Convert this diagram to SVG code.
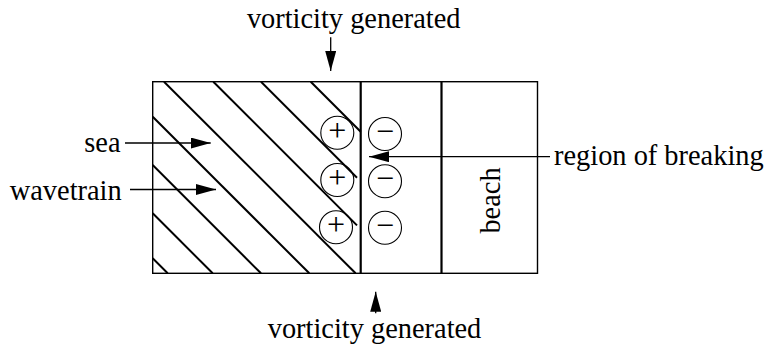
<svg xmlns="http://www.w3.org/2000/svg" width="769" height="347" viewBox="0 0 769 347">
  <defs>
    <marker id="head" viewBox="0 0 20 11" refX="20" refY="5.5" markerWidth="20" markerHeight="11" markerUnits="userSpaceOnUse" orient="auto">
      <path d="M0,0 L20,5.5 L0,11 Z" fill="#000"/>
    </marker>
    <style>
      .lbl { font-family: "Liberation Serif", "Times New Roman", serif; font-size: 28.4px; fill: #000; }
      .sign { font-family: "Liberation Serif", "Times New Roman", serif; font-size: 32px; fill: #000; text-anchor: middle; }
      .frame { fill: none; stroke: #000; stroke-width: 1.4; }
      .wall { stroke: #000; stroke-width: 2.2; }
      .crest { stroke: #000; stroke-width: 2; fill: none; }
      .ring { fill: none; stroke: #000; stroke-width: 1.1; }
      .arrow { stroke: #000; stroke-width: 1.3; fill: none; marker-end: url(#head); }
    </style>
  </defs>

  <!-- sea / surf zone / beach strip -->
  <g id="sea">
    <rect class="frame" x="152.7" y="81.7" width="384.8" height="191.6"/>
    <!-- wave crests, 45 degrees -->
    <g id="wavetrain">
      <line class="crest" x1="310.7" y1="81.7" x2="360.7" y2="131.7"/>
      <line class="crest" x1="261" y1="81.7" x2="357" y2="177.7"/>
      <line class="crest" x1="213.3" y1="81.7" x2="357" y2="225.4"/>
      <line class="crest" x1="164" y1="81.7" x2="355.6" y2="273.3"/>
      <line class="crest" x1="152.7" y1="116.7" x2="309.3" y2="273.3"/>
      <line class="crest" x1="152.7" y1="165" x2="261" y2="273.3"/>
      <line class="crest" x1="152.7" y1="213.3" x2="212.7" y2="273.3"/>
      <line class="crest" x1="152.7" y1="258.3" x2="167.7" y2="273.3"/>
    </g>
  </g>

  <g id="breaking-line">
    <line class="wall" x1="360.7" y1="81.7" x2="360.7" y2="273.3"/>
  </g>

  <g id="shoreline">
    <line class="wall" x1="441.5" y1="81.7" x2="441.5" y2="273.3"/>
  </g>

  <g id="beach">
    <text class="lbl" text-anchor="middle" transform="translate(500,200.5) rotate(-90)">beach</text>
  </g>

  <!-- positive vortices on the sea side -->
  <g id="positive-vortices">
    <circle class="ring" cx="337.3" cy="132.7" r="16.5"/>
    <text class="sign" x="337.3" y="140.8">+</text>
    <circle class="ring" cx="337.3" cy="180" r="16.5"/>
    <text class="sign" x="337.3" y="188.1">+</text>
    <circle class="ring" cx="336" cy="227.3" r="16.5"/>
    <text class="sign" x="336" y="235.4">+</text>
  </g>

  <!-- negative vortices on the beach side -->
  <g id="negative-vortices">
    <circle class="ring" cx="385" cy="134" r="16.5"/>
    <text class="sign" x="385" y="142.1">−</text>
    <circle class="ring" cx="385" cy="181.3" r="16.5"/>
    <text class="sign" x="385" y="189.4">−</text>
    <circle class="ring" cx="385" cy="227.7" r="16.5"/>
    <text class="sign" x="385" y="235.8">−</text>
  </g>

  <g id="labels">
    <text class="lbl" x="353.7" y="28.3" text-anchor="middle">vorticity generated</text>
    <text class="lbl" x="374.5" y="338.3" text-anchor="middle">vorticity generated</text>
    <text class="lbl" x="120.5" y="151.7" text-anchor="end">sea</text>
    <text class="lbl" x="121.7" y="200" text-anchor="end">wavetrain</text>
    <text class="lbl" x="554" y="165">region of breaking</text>
  </g>

  <g id="connectors">
    <line class="arrow" x1="125" y1="143" x2="210.7" y2="143"/>
    <line class="arrow" x1="130" y1="189.5" x2="216" y2="189.5"/>
    <line class="arrow" x1="550" y1="156.7" x2="369" y2="156.7"/>
    <line class="arrow" x1="330.7" y1="37.3" x2="330.7" y2="71"/>
    <line class="arrow" x1="375.7" y1="313.3" x2="375.7" y2="291.7"/>
  </g>
</svg>
